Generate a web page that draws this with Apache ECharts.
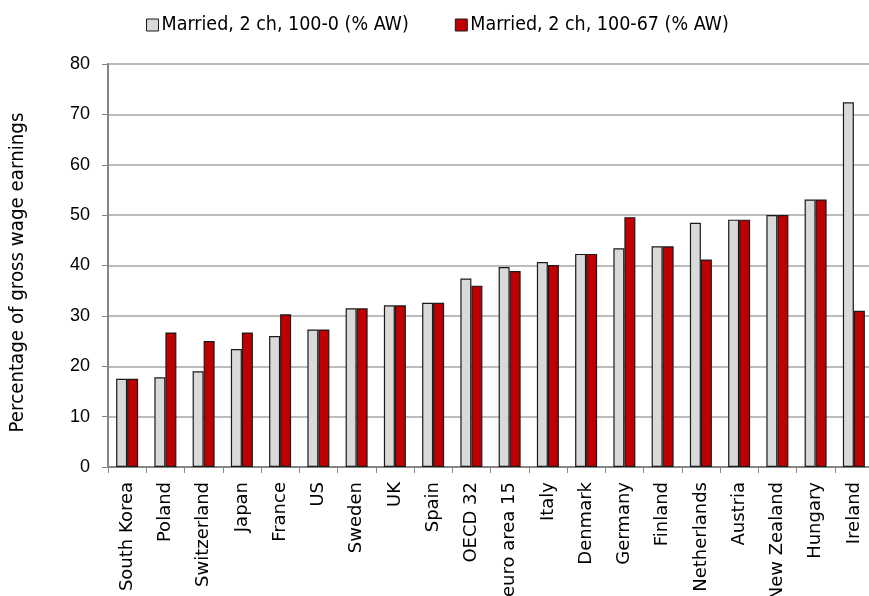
<!DOCTYPE html>
<html>
<head>
<meta charset="utf-8">
<script src="https://cdn.jsdelivr.net/npm/echarts@6/dist/echarts.min.js"></script>
<style>
  html, body { margin: 0; padding: 0; background: #ffffff; }
  #chart { width: 869px; height: 596px; }
</style>
</head>
<body>
<div id="chart"></div>
<script>
// Countries / aggregates along the category axis
const categories = [
  'South Korea', 'Poland', 'Switzerland', 'Japan', 'France', 'US', 'Sweden',
  'UK', 'Spain', 'OECD 32', 'euro area 15', 'Italy', 'Denmark', 'Germany',
  'Finland', 'Netherlands', 'Austria', 'New Zealand', 'Hungary', 'Ireland'
];

// Married, 2 children, 100-0 earnings split (% of average wage)
const married100_0 = [
  17.5, 17.8, 19.0, 23.4, 26.0, 27.3, 31.5, 32.1, 32.6, 37.4,
  39.7, 40.7, 42.3, 43.4, 43.8, 48.5, 49.1, 50.0, 53.1, 72.4
];

// Married, 2 children, 100-67 earnings split (% of average wage)
const married100_67 = [
  17.5, 26.7, 25.0, 26.7, 30.3, 27.3, 31.5, 32.1, 32.6, 36.0,
  38.9, 40.1, 42.3, 49.6, 43.8, 41.2, 49.1, 50.0, 53.1, 31.0
];

const seriesNames = ['Married, 2 ch, 100-0 (% AW)', 'Married, 2 ch, 100-67 (% AW)'];
const yTicks = [0, 10, 20, 30, 40, 50, 60, 70, 80];

const chart = echarts.init(document.getElementById('chart'), null, { renderer: 'canvas' });

const axisGrey = '#868686';

chart.setOption({
  backgroundColor: '#ffffff',
  animation: false,
  legend: {
    top: 10,
    left: 141,
    icon: 'rect',
    itemWidth: 12,
    itemHeight: 12,
    itemGap: 46,
    itemStyle: { borderColor: '#1a1a1a', borderWidth: 1 },
    textStyle: { fontFamily: 'DejaVu Sans Condensed', fontSize: 19.5, color: '#000', padding: [0, 0, 0, -2] },
    data: seriesNames
  },
  grid: {
    left: 108,
    top: 64,
    width: 765,
    bottom: 129,
    containLabel: false,
    outerBoundsMode: 'none'
  },
  xAxis: {
    type: 'category',
    data: categories,
    axisLine: { lineStyle: { color: axisGrey, width: 2 } },
    axisTick: { show: true, length: 6, lineStyle: { color: axisGrey, width: 1 }, alignWithLabel: false },
    axisLabel: {
      rotate: 90,
      interval: 0,
      margin: 15,
      fontFamily: 'DejaVu Sans',
      fontSize: 18,
      color: '#000'
    }
  },
  yAxis: {
    type: 'value',
    min: yTicks[0],
    max: yTicks[yTicks.length - 1],
    interval: 10,
    name: 'Percentage of gross wage earnings',
    nameLocation: 'middle',
    nameGap: 80,
    nameTextStyle: { fontFamily: 'DejaVu Sans Condensed', fontSize: 20.3, color: '#000', padding: [0, 14, 0, 0] },
    axisLine: { show: true, lineStyle: { color: axisGrey, width: 2 } },
    axisTick: { show: true, length: 6, lineStyle: { color: axisGrey } },
    axisLabel: { margin: 18, fontFamily: 'Liberation Sans', fontSize: 18, color: '#000' },
    splitLine: { lineStyle: { color: '#a6a6a6', width: 1.5 } }
  },
  series: [
    {
      name: seriesNames[0],
      type: 'bar',
      data: married100_0,
      barWidth: 11,
      barGap: '0%',
      itemStyle: { color: '#d9d9d9', borderColor: '#1a1a1a', borderWidth: 1.2 }
    },
    {
      name: seriesNames[1],
      type: 'bar',
      data: married100_67,
      barWidth: 11,
      itemStyle: { color: '#c00000', borderColor: '#1a1a1a', borderWidth: 1.2 }
    }
  ]
});
</script>
</body>
</html>
